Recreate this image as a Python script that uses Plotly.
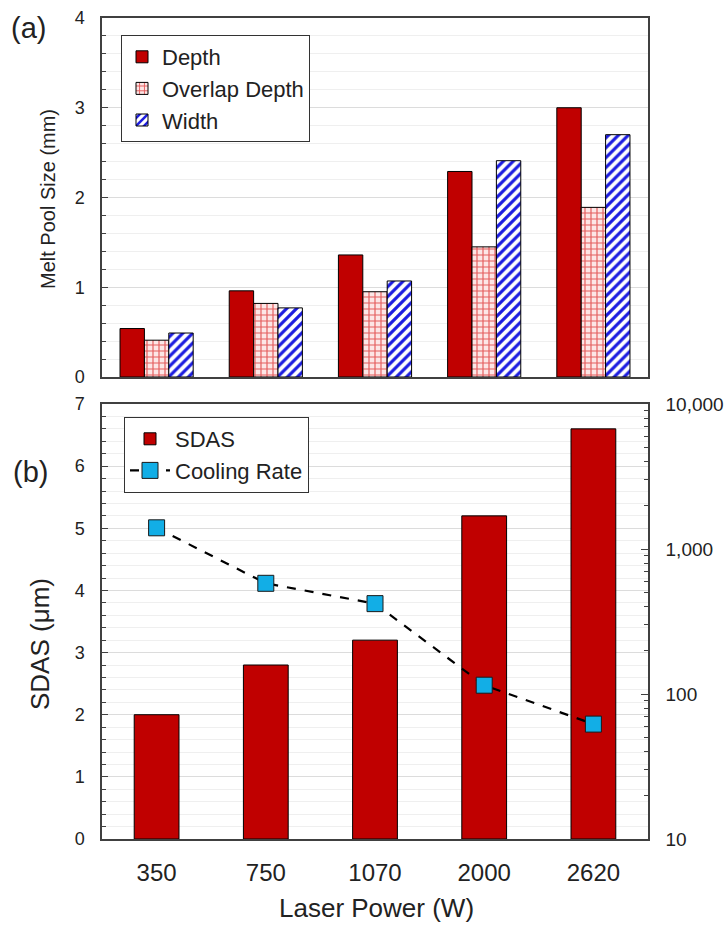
import plotly.graph_objects as go

# ---- data ----
powers = ["350", "750", "1070", "2000", "2620"]
depth = [0.54, 0.96, 1.36, 2.29, 3.00]
overlap_depth = [0.41, 0.82, 0.95, 1.45, 1.89]
width = [0.49, 0.77, 1.07, 2.41, 2.70]
sdas = [2.0, 2.8, 3.2, 5.2, 6.6]
cooling_rate = [1400, 580, 420, 115, 62]
right_tickvals = [10, 100, 1000, 10000]
right_ticktext = ["10", "100", "1,000", "10,000"]
right_minor = [m * d for d in (10, 100, 1000) for m in range(2, 10)]

W, H = 726, 929
FONT = "Liberation Sans, Arial, sans-serif"
DARKRED = "#c00000"
AXC = "#404040"
TXT = "#222222"

def px_x(x):
    return x / W

def px_y(y):
    return 1 - y / H

fig = go.Figure()

# ---- panel (a) ----
fig.add_trace(go.Bar(
    x=powers, y=depth, name="Depth", xaxis="x", yaxis="y",
    marker=dict(color=DARKRED, line=dict(color="black", width=1)),
    legend="legend"))
fig.add_trace(go.Bar(
    x=powers, y=overlap_depth, name="Overlap Depth", xaxis="x", yaxis="y",
    marker=dict(color="#f7d0d0", line=dict(color="black", width=1),
                pattern=dict(shape="+", fgcolor="#e45c5c", bgcolor="#fce6e6",
                             size=6, solidity=0.35, fillmode="replace")),
    legend="legend"))
fig.add_trace(go.Bar(
    x=powers, y=width, name="Width", xaxis="x", yaxis="y",
    marker=dict(color="white", line=dict(color="black", width=1),
                pattern=dict(shape="/", fgcolor="#1c1ce0", bgcolor="white",
                             size=7, solidity=0.45, fillmode="replace")),
    legend="legend"))

# ---- panel (b) ----
fig.add_trace(go.Bar(
    x=powers, y=sdas, name="SDAS", xaxis="x2", yaxis="y3", width=0.41,
    marker=dict(color=DARKRED, line=dict(color="black", width=1)),
    legend="legend2"))
fig.add_trace(go.Scatter(
    x=powers, y=cooling_rate, name="Cooling Rate", xaxis="x2", yaxis="y4",
    mode="lines+markers",
    line=dict(color="black", width=2.2, dash="dash"),
    marker=dict(symbol="square", size=16, color="#12aee6",
                line=dict(color="#1a1a1a", width=1)),
    legend="legend2"))

xdom = [px_x(102), px_x(648)]
top_dom = [px_y(377), px_y(18)]
bot_dom = [px_y(839), px_y(404)]

common_axis = dict(showline=True, linecolor=AXC, linewidth=1.5, mirror=True,
                   automargin=False, zeroline=False)

def ann(text, x, y, size, angle=0):
    return dict(text=text, x=px_x(x), y=px_y(y), xref="paper", yref="paper",
                xanchor="center", yanchor="middle", textangle=angle,
                showarrow=False, font=dict(size=size, color=TXT))

fig.update_layout(
    width=W, height=H,
    margin=dict(l=0, r=0, t=0, b=0),
    paper_bgcolor="white", plot_bgcolor="white",
    font=dict(family=FONT, color=TXT),
    barmode="group", bargap=0.33, bargroupgap=0,
    xaxis=dict(domain=xdom, anchor="y", showticklabels=False, ticks="",
               **common_axis),
    yaxis=dict(domain=top_dom, anchor="x", range=[0, 4], dtick=1,
               ticks="inside", ticklen=6, tickcolor=AXC,
               tickfont=dict(size=18, color=TXT), ticklabelstandoff=12,
               showgrid=True, gridcolor="#dcdcdc", gridwidth=1,
               minor=dict(dtick=0.2, ticks="inside", ticklen=4, tickcolor=AXC,
                          showgrid=True, gridcolor="#efefef", gridwidth=1),
               **common_axis),
    xaxis2=dict(domain=xdom, anchor="y3", ticks="",
                tickfont=dict(size=24, color=TXT), ticklabelstandoff=11,
                **common_axis),
    yaxis3=dict(domain=bot_dom, anchor="x2", range=[0, 7], dtick=1,
                ticks="inside", ticklen=6, tickcolor=AXC,
                tickfont=dict(size=18, color=TXT), ticklabelstandoff=12,
                showgrid=True, gridcolor="#dcdcdc", gridwidth=1,
                minor=dict(dtick=0.2, ticks="inside", ticklen=4, tickcolor=AXC,
                           showgrid=True, gridcolor="#efefef", gridwidth=1),
                **common_axis),
    yaxis4=dict(overlaying="y3", anchor="x2", side="right", type="log",
                range=[1, 4], tickvals=right_tickvals, ticktext=right_ticktext,
                ticks="inside", ticklen=7, tickcolor=AXC,
                tickfont=dict(size=19, color=TXT), ticklabelstandoff=12,
                showgrid=False, showline=True, linecolor=AXC, linewidth=1.5,
                automargin=False, zeroline=False,
                minor=dict(tickvals=right_minor, ticks="inside", ticklen=4,
                           tickcolor=AXC, showgrid=False)),
    legend=dict(x=px_x(121), y=px_y(35), xanchor="left", yanchor="top",
                bgcolor="white", bordercolor="#333333", borderwidth=1,
                font=dict(size=22, color=TXT), itemwidth=30,
                tracegroupgap=0),
    legend2=dict(x=px_x(124), y=px_y(417), xanchor="left", yanchor="top",
                 bgcolor="white", bordercolor="#333333", borderwidth=1,
                 font=dict(size=22, color=TXT), itemwidth=40),
    annotations=[
        ann("(a)", 28, 28, 29),
        ann("(b)", 30, 472, 29),
        ann("Melt Pool Size (mm)", 48, 199, 20, -90),
        ann("SDAS (μm)", 40, 644, 26, -90),
        ann("Laser Power (W)", 376, 908, 26),
    ],
)

fig.write_html("out.html")
